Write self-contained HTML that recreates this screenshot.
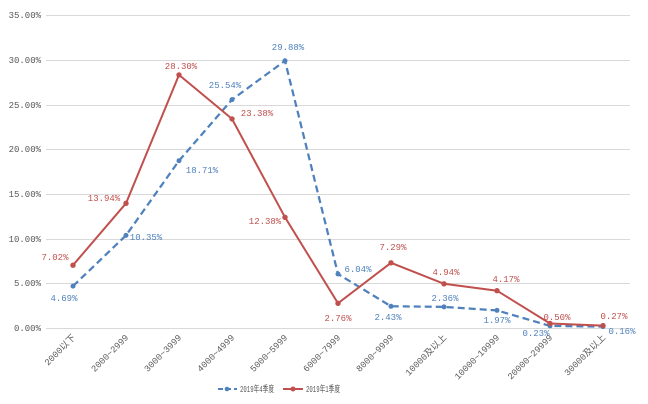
<!DOCTYPE html>
<html><head><meta charset="utf-8"><style>
html,body{margin:0;padding:0;background:#fff;}
svg{display:block;}
text{font-family:"Liberation Mono","Noto Sans CJK SC",monospace;font-size:9px;}
</style></head><body>
<svg width="648" height="404" viewBox="0 0 648 404" xmlns="http://www.w3.org/2000/svg">
<g stroke="#d9d9d9" stroke-width="1">
<line x1="46" y1="15.5" x2="630" y2="15.5"/>
<line x1="46" y1="60.5" x2="630" y2="60.5"/>
<line x1="46" y1="105.5" x2="630" y2="105.5"/>
<line x1="46" y1="149.5" x2="630" y2="149.5"/>
<line x1="46" y1="194.5" x2="630" y2="194.5"/>
<line x1="46" y1="239.5" x2="630" y2="239.5"/>
<line x1="46" y1="283.5" x2="630" y2="283.5"/>
<line x1="46" y1="328.5" x2="630" y2="328.5"/>
</g>
<g fill="#595959" text-anchor="end">
<text x="41" y="18">35.00%</text>
<text x="41" y="63">30.00%</text>
<text x="41" y="108">25.00%</text>
<text x="41" y="152">20.00%</text>
<text x="41" y="197">15.00%</text>
<text x="41" y="242">10.00%</text>
<text x="41" y="286">5.00%</text>
<text x="41" y="331">0.00%</text>
</g>
<g fill="#595959" text-anchor="end" font-size="8">
<text transform="translate(76,338) rotate(-45)">2000以下</text>
<text transform="translate(129,338) rotate(-45)">2000~2999</text>
<text transform="translate(182,338) rotate(-45)">3000~3999</text>
<text transform="translate(235,338) rotate(-45)">4000~4999</text>
<text transform="translate(288,338) rotate(-45)">5000~5999</text>
<text transform="translate(341,338) rotate(-45)">6000~7999</text>
<text transform="translate(394,338) rotate(-45)">8000~9999</text>
<text transform="translate(447,338) rotate(-45)">10000及以上</text>
<text transform="translate(500,338) rotate(-45)">10000~19999</text>
<text transform="translate(553,338) rotate(-45)">20000~29999</text>
<text transform="translate(606,338) rotate(-45)">30000及以上</text>
</g>
<polyline fill="none" stroke="#4f81bd" stroke-width="2.25" stroke-dasharray="7,4" points="73,286.1 126,235.4 179,160.7 232,99.6 285,60.8 338,274 391,306.3 444,306.9 497,310.4 550,325.9 603,326.6"/>
<g fill="#4f81bd">
<circle cx="73" cy="286.1" r="2.5"/><circle cx="126" cy="235.4" r="2.5"/><circle cx="179" cy="160.7" r="2.5"/><circle cx="232" cy="99.6" r="2.5"/><circle cx="285" cy="60.8" r="2.5"/><circle cx="338" cy="274" r="2.5"/><circle cx="391" cy="306.3" r="2.5"/><circle cx="444" cy="306.9" r="2.5"/><circle cx="497" cy="310.4" r="2.5"/><circle cx="550" cy="325.9" r="2.5"/><circle cx="603" cy="326.6" r="2.5"/>
</g>
<polyline fill="none" stroke="#c0504d" stroke-width="2" points="73,265.2 126,203.3 179,74.9 232,118.9 285,217.3 338,303.3 391,262.8 444,283.8 497,290.7 550,323.5 603,325.6"/>
<g fill="#c0504d">
<circle cx="73" cy="265.2" r="2.7"/><circle cx="126" cy="203.3" r="2.7"/><circle cx="179" cy="74.9" r="2.7"/><circle cx="232" cy="118.9" r="2.7"/><circle cx="285" cy="217.3" r="2.7"/><circle cx="338" cy="303.3" r="2.7"/><circle cx="391" cy="262.8" r="2.7"/><circle cx="444" cy="283.8" r="2.7"/><circle cx="497" cy="290.7" r="2.7"/><circle cx="550" cy="323.5" r="2.7"/><circle cx="603" cy="325.6" r="2.7"/>
</g>
<g fill="#4f81bd" text-anchor="middle">
<text x="64" y="301">4.69%</text>
<text x="146" y="240">10.35%</text>
<text x="202" y="173">18.71%</text>
<text x="225" y="88">25.54%</text>
<text x="288" y="50">29.88%</text>
<text x="358" y="272">6.04%</text>
<text x="388" y="320">2.43%</text>
<text x="445" y="301">2.36%</text>
<text x="497" y="323">1.97%</text>
<text x="536" y="336">0.23%</text>
<text x="622" y="334">0.16%</text>
</g>
<g fill="#c0504d" text-anchor="middle">
<text x="55" y="260">7.02%</text>
<text x="104" y="201">13.94%</text>
<text x="181" y="69">28.30%</text>
<text x="257" y="116">23.38%</text>
<text x="265" y="224">12.38%</text>
<text x="338" y="321">2.76%</text>
<text x="393" y="250">7.29%</text>
<text x="446" y="275">4.94%</text>
<text x="506" y="282">4.17%</text>
<text x="557" y="320">0.50%</text>
<text x="614" y="319">0.27%</text>
</g>
<line x1="218" y1="389" x2="237" y2="389" stroke="#4f81bd" stroke-width="2" stroke-dasharray="5,3"/>
<circle cx="227" cy="389" r="2.3" fill="#4f81bd"/>
<text x="240" y="392" fill="#595959" font-size="7" textLength="34" lengthAdjust="spacingAndGlyphs">2019年4季度</text>
<line x1="283" y1="389" x2="303" y2="389" stroke="#c0504d" stroke-width="2"/>
<circle cx="293" cy="389" r="2.5" fill="#c0504d"/>
<text x="306" y="392" fill="#595959" font-size="7" textLength="34" lengthAdjust="spacingAndGlyphs">2019年1季度</text>
</svg>
</body></html>
